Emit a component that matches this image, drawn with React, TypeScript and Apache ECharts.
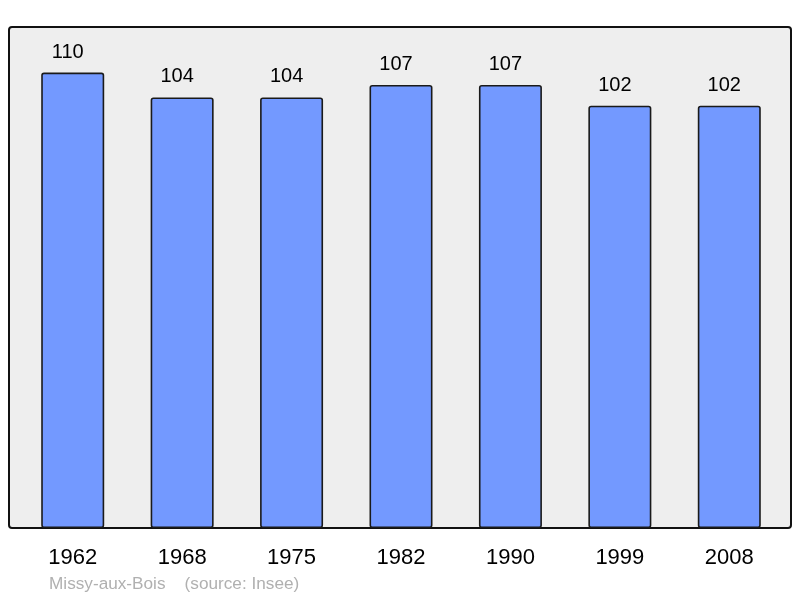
import { useEffect, useRef } from 'react'
import * as echarts from 'echarts'

const years = ['1962', '1968', '1975', '1982', '1990', '1999', '2008']
const population = [110, 104, 104, 107, 107, 102, 102]
const commune = 'Missy-aux-Bois'
const source = '(source: Insee)'

export default function App() {
  const chartRef = useRef<HTMLDivElement | null>(null)

  useEffect(() => {
    if (!chartRef.current) return
    const chart = echarts.init(chartRef.current, undefined, { renderer: 'svg' })

    chart.setOption({
      animation: false,
      textStyle: { fontFamily: 'Liberation Sans' },
      graphic: [
        {
          type: 'rect',
          z: -10,
          shape: { x: 9, y: 27, width: 782, height: 501, r: 3 },
          style: { fill: '#eeeeee', stroke: '#111111', lineWidth: 2 }
        },
        {
          type: 'text',
          left: 49,
          top: 574,
          style: {
            text: commune + '    ' + source,
            fill: '#b0b0b0',
            fontSize: 17.2,
            fontFamily: 'Liberation Sans'
          }
        }
      ],
      grid: { left: 18, right: 16, top: 27, bottom: 70 },
      xAxis: {
        type: 'category',
        data: years,
        axisLine: { show: false },
        axisTick: { show: false },
        axisLabel: { color: '#000', fontSize: 22, margin: 17 }
      },
      yAxis: {
        type: 'value',
        min: 0,
        max: 121,
        show: false,
        splitLine: { show: false }
      },
      series: [
        {
          type: 'bar',
          data: population,
          barWidth: 63,
          itemStyle: {
            color: '#7399ff',
            borderColor: '#1a1a1a',
            borderWidth: 1.6,
            borderRadius: 2
          },
          label: {
            show: true,
            position: 'top',
            distance: 12,
            offset: [-5, 0],
            color: '#000',
            fontSize: 20
          }
        }
      ]
    })

    return () => chart.dispose()
  }, [])

  return (
    <div
      ref={chartRef}
      style={{ position: 'fixed', left: 0, top: 0, width: 800, height: 598 }}
    />
  )
}
